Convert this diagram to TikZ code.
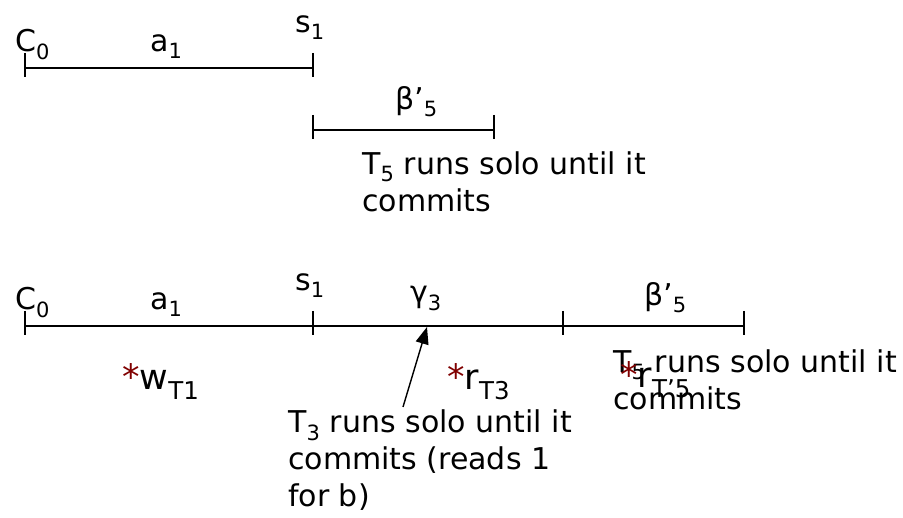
\documentclass[tikz,border=0pt]{standalone}
\usepackage{fontspec}
\setmainfont{DejaVu Sans}
\usepackage{tikz}
\usetikzlibrary{arrows.meta}
\definecolor{starred}{RGB}{128,0,0}
\newcommand{\lo}[1]{\textsubscript{#1}}
\newcommand{\hit}{\textcolor{starred}{*}}

\begin{document}
\begin{tikzpicture}[x=1pt,y=-1pt,
	seg/.style={line width=1.6pt},
	tick/.style={line width=1.6pt},
	lbl/.style={anchor=base west,inner sep=0pt,font=\fontsize{30}{37}\selectfont},
	note/.style={lbl,align=left},
	op/.style={anchor=base west,inner sep=0pt,font=\fontsize{35}{40}\selectfont},
	pointer/.style={line width=1.4pt,-{Triangle[length=17pt,width=13pt]}}]
	\useasboundingbox (0,0) rectangle (903,518);
	% first run: C0 to s1, then T5 alone
	\coordinate (c0) at (25,68);
	\coordinate (c1) at (313,68);
	\coordinate (e0) at (313,130);
	\coordinate (e1) at (494,130);
	\draw[seg] (c0) -- (c1);
	\draw[seg] (e0) -- (e1);
	\foreach \p in {c0,c1,e0,e1}
		\draw[tick] (\p) +(0,-15) -- +(0,9);
	\node[lbl] (cc0) at (15,52) {C\lo{0}};
	\node[lbl] (ca1) at (150,52) {a\lo{1}};
	\node[lbl] (cs1) at (295,33) {s\lo{1}};
	\node[lbl] (eb5) at (395,110) {β’\lo{5}};
	% base of a multi-line node sits on its last line
	\node[note] (enote) at (362,212) {T\lo{5} runs solo until it\\commits};
	% second run: T3 runs solo before T5
	\coordinate (d0) at (25,326);
	\coordinate (d1) at (313,326);
	\coordinate (d2) at (563,326);
	\coordinate (d3) at (744,326);
	\foreach \a/\b in {d0/d1,d1/d2,d2/d3}
		\draw[seg] (\a) -- (\b);
	\foreach \p in {d0,d1,d2,d3}
		\draw[tick] (\p) +(0,-15) -- +(0,9);
	\node[lbl] (dc0) at (15,310) {C\lo{0}};
	\node[lbl] (da1) at (150,310) {a\lo{1}};
	\node[lbl] (ds1) at (295,291) {s\lo{1}};
	\node[lbl] (dg3) at (410,303) {γ\lo{3}};
	\node[lbl] (db5) at (644,306) {β’\lo{5}};
	\node[op] (w1) at (122,390) {\hit w\lo{T1}};
	\node[op] (r3) at (447,390) {\hit r\lo{T3}};
	\node[note] (dnote5) at (613,410) {T\lo{5} runs solo until it\\commits};
	\node[op] (r5) at (620,388) {\hit r\lo{T’5}};
	\node[note] (dnote3) at (288,507) {T\lo{3} runs solo until it\\commits (reads 1\\for b)};
	\coordinate (tail) at (403,407);
	\coordinate (tip) at (427,327);
	\draw[pointer] (tail) -- (tip);
\end{tikzpicture}
\end{document}
